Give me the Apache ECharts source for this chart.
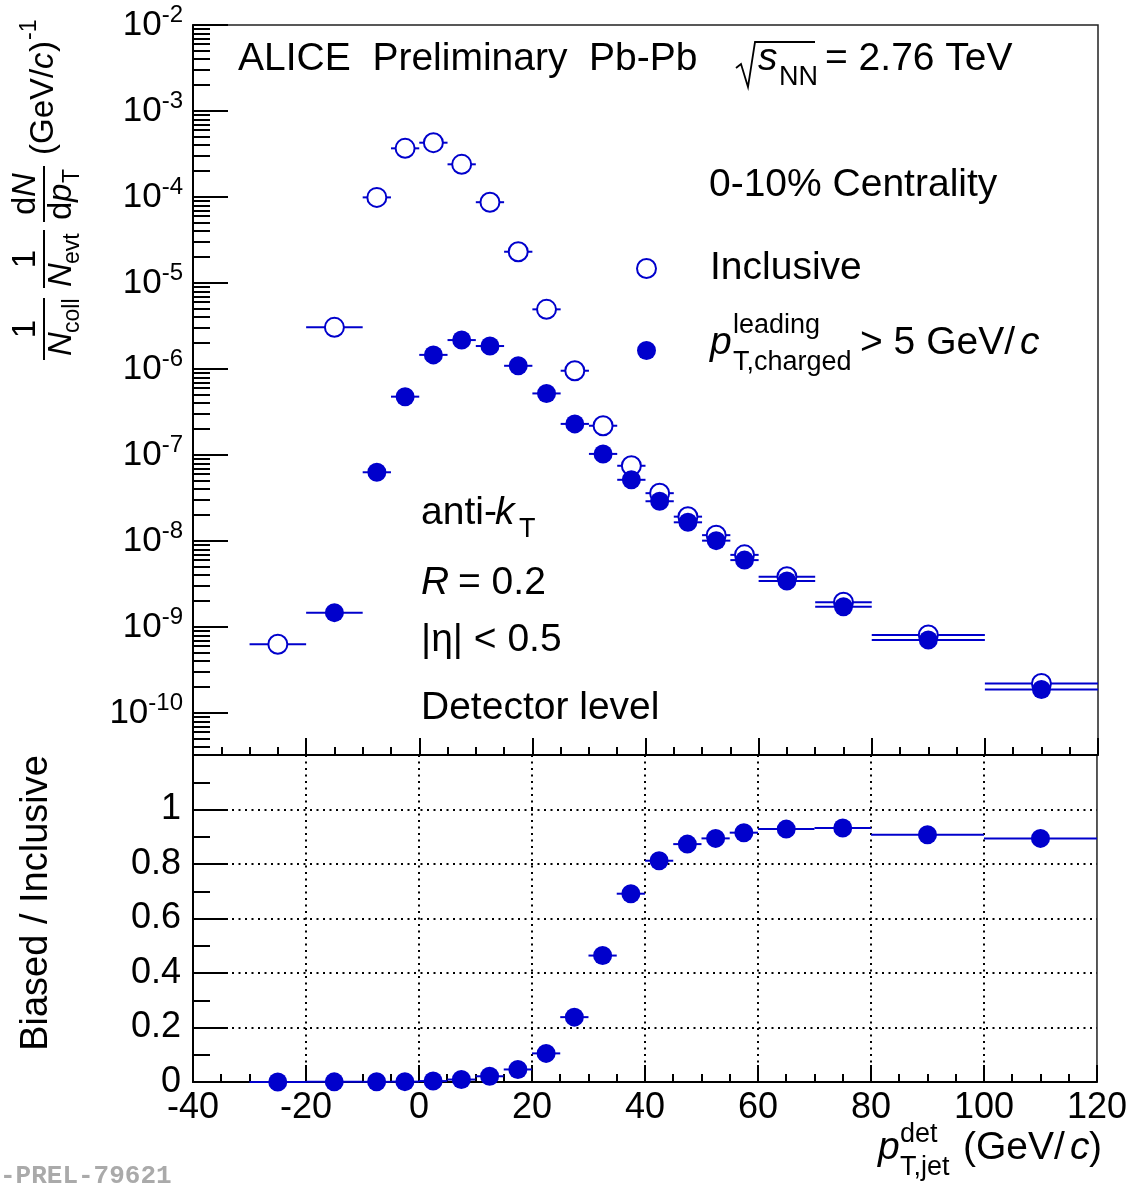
<!DOCTYPE html>
<html>
<head>
<meta charset="utf-8">
<title>Jet spectra, inclusive vs leading-track biased</title>
<script src="https://cdn.jsdelivr.net/npm/echarts@6/dist/echarts.min.js"></script>
<style>
  html, body { margin: 0; padding: 0; background: #fff; }
  #chart { width: 1130px; height: 1187px; }
</style>
</head>
<body>
<div id="chart"></div>
<script>
// Jet pT bins (GeV/c): lower and upper edges
const binLow  = [-30, -20, -10, -5, 0, 5, 10, 15, 20, 25, 30, 35, 40, 45, 50, 55, 60, 70, 80, 100];
const binHigh = [-20, -10, -5, 0, 5, 10, 15, 20, 25, 30, 35, 40, 45, 50, 55, 60, 70, 80, 100, 120];

// 1/Ncoll 1/Nevt dN/dpT, inclusive jets
const inclusive = [6.3e-10, 3.05e-6, 9.9e-5, 3.68e-4, 4.28e-4, 2.4e-4, 8.7e-5, 2.31e-5, 4.94e-6, 9.55e-7,
                   2.19e-7, 7.5e-8, 3.6e-8, 1.92e-8, 1.17e-8, 6.9e-9, 3.85e-9, 1.94e-9, 8.07e-10, 2.21e-10];
// same, with leading charged track pT > 5 GeV/c (no entry in the first bin)
const biased = [null, 1.47e-9, 6.3e-8, 4.77e-7, 1.46e-6, 2.17e-6, 1.85e-6, 1.09e-6, 5.2e-7, 2.3e-7,
                1.03e-7, 5.15e-8, 2.9e-8, 1.65e-8, 1.01e-8, 6.0e-9, 3.43e-9, 1.72e-9, 7.06e-10, 1.88e-10];
// Biased / Inclusive
const ratio = [0, 0.0005, 0.0006, 0.0013, 0.0034, 0.009, 0.021, 0.046, 0.105, 0.238,
               0.464, 0.691, 0.812, 0.873, 0.894, 0.915, 0.928, 0.932, 0.907, 0.894];

// Axis tick values
const xTicks = [-40, -20, 0, 20, 40, 60, 80, 100, 120];
const decadeExps = [-10, -9, -8, -7, -6, -5, -4, -3, -2];
const ratioTicks = [0, 0.2, 0.4, 0.6, 0.8, 1];

const BLUE = '#0000cc';
const FONT = '"Liberation Sans", Arial, Helvetica, sans-serif';
const LOG_MIN = 3.25e-11, LOG_MAX = 1e-2;

const centers = binLow.map((lo, i) => (lo + binHigh[i]) / 2);
const decades = decadeExps.map(e => Math.pow(10, e));
const minorLogTicks = [];
for (let e = -11; e <= -3; e++) {
  for (let m = 2; m <= 9; m++) {
    const v = m * Math.pow(10, e);
    if (v > LOG_MIN && v < LOG_MAX) minorLogTicks.push(v);
  }
}

function errBars(vals, xi, yi, clip) {
  const data = [];
  vals.forEach((v, i) => { if (v !== null) data.push([binLow[i], binHigh[i], v]); });
  return {
    type: 'custom', xAxisIndex: xi, yAxisIndex: yi, silent: true, clip: clip,
    data: data,
    encode: { x: [0, 1], y: 2 },
    renderItem: function (params, api) {
      const a = api.coord([api.value(0), api.value(2)]);
      const b = api.coord([api.value(1), api.value(2)]);
      return { type: 'line', shape: { x1: a[0], y1: a[1], x2: b[0], y2: b[1] },
               style: { stroke: BLUE, lineWidth: 2 } };
    }
  };
}
function points(name, vals, xi, yi, open) {
  const data = [];
  vals.forEach((v, i) => { if (v !== null) data.push([centers[i], v]); });
  return {
    name: name, type: 'scatter', xAxisIndex: xi, yAxisIndex: yi, silent: true, clip: false,
    symbol: 'circle', symbolSize: 19, data: data,
    itemStyle: open ? { color: '#fff', borderColor: BLUE, borderWidth: 2, opacity: 1 }
                    : { color: BLUE, borderWidth: 0, opacity: 1 }
  };
}

function txt(text, x, y, size, opts) {
  opts = opts || {};
  const style = {
    text: text, x: x, y: y, fill: opts.fill || '#000',
    font: (opts.italic ? 'italic ' : '') + (opts.bold ? 'bold ' : '') + size + 'px ' + (opts.family || FONT),
    align: opts.align || 'left', textAlign: opts.align || 'left',
    verticalAlign: 'middle', textVerticalAlign: 'middle'
  };
  return { type: 'text', silent: true, style: style };
}
function seg(x1, y1, x2, y2, w) {
  return { type: 'line', silent: true, shape: { x1, y1, x2, y2 }, style: { stroke: '#000', lineWidth: w || 2 } };
}

const axisLineStyle = { color: '#000', width: 2 };
const chart = echarts.init(document.getElementById('chart'), null, { renderer: 'canvas' });

chart.setOption({
  animation: false,
  backgroundColor: '#fff',
  grid: [
    { left: 193, right: 32, top: 25, height: 730, show: true, borderColor: '#222', borderWidth: 1.5, backgroundColor: 'transparent' },
    { left: 193, right: 32, top: 755, height: 327, show: true, borderColor: '#222', borderWidth: 1.5, backgroundColor: 'transparent' }
  ],
  legend: {
    orient: 'vertical', left: 636, top: 258, padding: 0, itemWidth: 19, itemHeight: 19, itemGap: 62,
    data: ['Inclusive', 'Biased'], formatter: () => '', textStyle: { fontSize: 10 },
    selectedMode: false
  },
  xAxis: [
    { type: 'value', gridIndex: 0, min: -40, max: 120, interval: 20,
      axisLine: { onZero: false, lineStyle: axisLineStyle }, axisLabel: { show: false },
      axisTick: { inside: true, length: 17, lineStyle: { color: '#000', width: 2 } },
      minorTick: { show: true, splitNumber: 4, length: 8, lineStyle: { color: '#000', width: 2 } },
      splitLine: { show: false } },
    { type: 'value', gridIndex: 1, min: -40, max: 120, interval: 20,
      axisLine: { onZero: false, lineStyle: axisLineStyle },
      axisLabel: { color: '#000', fontSize: 36, fontFamily: FONT, margin: 8 },
      axisTick: { inside: true, length: 17, lineStyle: { color: '#000', width: 2 } },
      minorTick: { show: true, splitNumber: 4, length: 8, lineStyle: { color: '#000', width: 2 } },
      splitLine: { show: true, showMinLine: false, showMaxLine: false,
                   lineStyle: { color: '#000', width: 2, type: [2, 4.5] } } }
  ],
  yAxis: [
    { type: 'log', gridIndex: 0, logBase: 10, min: LOG_MIN, max: LOG_MAX, position: 'left',
      axisLine: { onZero: false, lineStyle: axisLineStyle },
      axisTick: { inside: true, length: 35, customValues: decades, lineStyle: { color: '#000', width: 2 } },
      axisLabel: { customValues: decades, margin: 10, color: '#000',
        formatter: v => '{b|10}{s|' + Math.round(Math.log10(v)) + '}',
        rich: { b: { fontSize: 35, fontFamily: FONT, lineHeight: 44, color: '#000' },
                s: { fontSize: 24, fontFamily: FONT, lineHeight: 24, verticalAlign: 'top', color: '#000' } } },
      splitLine: { show: false } },
    { type: 'log', gridIndex: 0, logBase: 10, min: LOG_MIN, max: LOG_MAX, position: 'left', offset: 0,
      axisLine: { show: false, onZero: false }, axisLabel: { show: false },
      axisTick: { inside: true, length: 17, customValues: minorLogTicks, lineStyle: { color: '#000', width: 2 } },
      splitLine: { show: false } },
    { type: 'value', gridIndex: 1, min: 0, max: 1.2, interval: 0.2,
      axisLine: { onZero: false, lineStyle: axisLineStyle },
      axisTick: { inside: true, length: 35, lineStyle: { color: '#000', width: 2 } },
      minorTick: { show: true, splitNumber: 2, length: 17, lineStyle: { color: '#000', width: 2 } },
      axisLabel: { color: '#000', fontSize: 36, fontFamily: FONT, margin: 12,
        formatter: v => (ratioTicks.some(t => Math.abs(t - v) < 1e-6) ? (Math.abs(v) < 1e-6 ? '0' : Math.abs(v - 1) < 1e-6 ? '1' : v.toFixed(1)) : '') },
      splitLine: { show: true, showMinLine: false, showMaxLine: false,
                   lineStyle: { color: '#000', width: 2, type: [2, 4.5] } } }
  ],
  series: [
    errBars(inclusive, 0, 0, true),
    points('Inclusive', inclusive, 0, 0, true),
    errBars(biased, 0, 0, true),
    points('Biased', biased, 0, 0, false),
    errBars(ratio, 1, 2, false),
    points('Ratio', ratio, 1, 2, false)
  ],
  graphic: [
    // header
    txt('ALICE  Preliminary  Pb-Pb', 238, 59, 39),
    { type: 'polyline', silent: true, shape: { points: [[736, 68], [741, 64], [748, 87], [755, 42], [815, 42]] },
      style: { stroke: '#000', lineWidth: 1.8, fill: null } },
    txt('s', 758, 59, 39, { italic: true }),
    txt('NN', 779, 78, 27),
    txt('= 2.76 TeV', 825, 59, 39),
    // legend block
    txt('0-10% Centrality', 709, 185, 39),
    txt('Inclusive', 710, 268, 39),
    txt('p', 710, 343, 39, { italic: true }),
    txt('leading', 733, 326, 27),
    txt('T,charged', 733, 363, 27),
    txt('> 5 GeV/', 860, 343, 39),
    txt('c', 1020, 343, 39, { italic: true }),
    // jet selection
    txt('anti-', 421, 513, 39),
    txt('k', 495, 513, 39, { italic: true }),
    txt('T', 519, 530, 27),
    txt('R', 421, 583, 39, { italic: true }),
    txt('= 0.2', 458, 583, 39),
    txt('|η| < 0.5', 421, 640, 39),
    txt('Detector level', 421, 708, 39),
    // x-axis title
    txt('p', 878, 1148, 39, { italic: true }),
    txt('det', 900, 1135, 27),
    txt('T,jet', 900, 1168, 27),
    txt('(GeV/', 963, 1148, 39),
    txt('c', 1070, 1148, 39, { italic: true }),
    txt(')', 1089, 1148, 39),
    // ratio y-axis title
    { type: 'group', x: 37, y: 903, rotation: Math.PI / 2, silent: true,
      children: [ txt('Biased / Inclusive', 0, 0, 38, { align: 'center' }) ] },
    // spectrum y-axis title
    { type: 'group', x: 0, y: 360, rotation: Math.PI / 2, silent: true,
      children: [
        txt('1', 31, 26, 33, { align: 'center' }), seg(0, 44, 62, 44),
        txt('N', 4, 62, 33, { italic: true }), txt('coll', 27, 73, 23),
        txt('1', 101, 26, 33, { align: 'center' }), seg(72, 44, 130, 44),
        txt('N', 73, 62, 33, { italic: true }), txt('evt', 96, 73, 23),
        txt('d', 145, 26, 33), txt('N', 163, 26, 33, { italic: true }), seg(138, 44, 194, 44),
        txt('d', 140, 62, 33), txt('p', 158, 62, 33, { italic: true }), txt('T', 177, 73, 23),
        txt('(GeV/', 205, 44, 33), txt('c', 291, 44, 33, { italic: true }), txt(')', 308, 44, 33),
        txt('-1', 320, 30, 23)
      ] },
    // figure id
    txt('-PREL-79621', 0, 1176, 26, { bold: true, family: '"Liberation Mono", "DejaVu Sans Mono", monospace', fill: '#aaa' })
  ]
});
</script>
</body>
</html>
